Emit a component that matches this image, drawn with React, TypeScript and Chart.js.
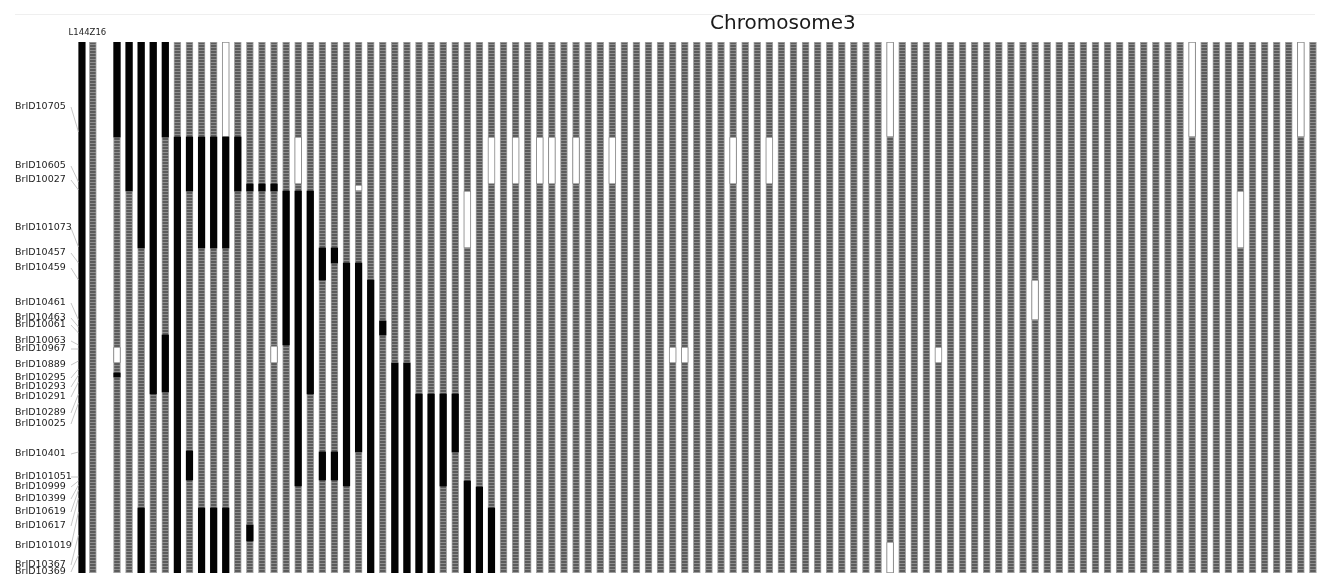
import React, { useEffect, useRef } from 'react';
import { Chart, registerables } from 'chart.js';

Chart.register(...registerables);

const chartTitle = 'Chromosome3';
const parentLabel = 'L144Z16';
const chromosomeLength = 531;
const parentPositions = [-2.9, -2.0]; // L144 (black), Z16 (grey)
const rilCount = 100;

const markerNames = [
  'BrID10705', 'BrID10605', 'BrID10027', 'BrID101073', 'BrID10457', 'BrID10459',
  'BrID10461', 'BrID10463', 'BrID10061', 'BrID10063', 'BrID10967', 'BrID10889',
  'BrID10295', 'BrID10293', 'BrID10291', 'BrID10289', 'BrID10025', 'BrID10401',
  'BrID101051', 'BrID10999', 'BrID10399', 'BrID10619', 'BrID10617', 'BrID101019',
  'BrID10367', 'BrID10369',
];
const labelPositions = [
  65, 124, 138, 186, 211, 226, 261, 276, 283, 299, 307, 323, 336, 345, 355, 371,
  382, 412, 435, 445, 457, 470, 484, 504, 523, 530,
];
const markerPositions = [
  90, 140, 148, 205, 221, 238, 278, 285, 291, 303, 307, 319, 327, 333, 340, 352,
  361, 410, 435, 439, 443, 448, 456, 470, 493, 513,
];

// [column, start, end] — L144 genotype segments
const blackSegments: number[][] = [
  [0, 0, 95], [0, 331, 335],
  [1, 0, 149],
  [2, 0, 206], [2, 466, 531],
  [3, 0, 352],
  [4, 0, 95], [4, 293, 350],
  [5, 95, 531],
  [6, 95, 149], [6, 409, 438],
  [7, 95, 206], [7, 466, 531],
  [8, 95, 206], [8, 466, 531],
  [9, 95, 206], [9, 466, 531],
  [10, 95, 149],
  [11, 142, 149], [11, 483, 499],
  [12, 142, 149],
  [13, 142, 149],
  [14, 149, 303],
  [15, 149, 444],
  [16, 149, 352],
  [17, 206, 238], [17, 410, 438],
  [18, 206, 221], [18, 410, 438],
  [19, 221, 444],
  [20, 221, 410],
  [21, 238, 531],
  [22, 279, 293],
  [23, 321, 531],
  [24, 321, 531],
  [25, 352, 531],
  [26, 352, 531],
  [27, 352, 444],
  [28, 352, 410],
  [29, 439, 531],
  [30, 445, 531],
  [31, 466, 531],
];

// [column, start, end] — missing-data segments
const whiteSegments: number[][] = [
  [0, 305, 321],
  [9, 0, 95],
  [13, 304, 321],
  [15, 95, 142],
  [20, 143, 149],
  [29, 149, 206],
  [31, 95, 142],
  [33, 95, 142],
  [35, 95, 142],
  [36, 95, 142],
  [38, 95, 142],
  [41, 95, 142],
  [46, 305, 321],
  [47, 305, 321],
  [51, 95, 142],
  [54, 95, 142],
  [64, 0, 95], [64, 500, 531],
  [68, 305, 321],
  [76, 238, 278],
  [89, 0, 95],
  [93, 149, 206],
  [98, 0, 95],
];

export default function App() {
  const ref = useRef<HTMLCanvasElement>(null);

  useEffect(() => {
    const canvas = ref.current!;
    const ctx = canvas.getContext('2d')!;

    const pc = document.createElement('canvas');
    pc.width = 4;
    pc.height = 3;
    const pg = pc.getContext('2d')!;
    pg.fillStyle = '#5c5c5c';
    pg.fillRect(0, 0, 4, 3);
    pg.fillStyle = '#8e8e8e';
    pg.fillRect(0, 2, 4, 1);
    const grayPattern = ctx.createPattern(pc, 'repeat')!;

    const grayData = [
      { x: parentPositions[1], y: [0, chromosomeLength] },
      ...Array.from({ length: rilCount }, (_, i) => ({ x: i, y: [0, chromosomeLength] })),
    ];
    const blackData = [
      { x: parentPositions[0], y: [0, chromosomeLength] },
      ...blackSegments.map(([c, s, e]) => ({ x: c, y: [s, e] })),
    ];
    const whiteData = whiteSegments.map(([c, s, e]) => ({ x: c, y: [s, e] }));

    const decorations = {
      id: 'decorations',
      beforeDraw(chart: any) {
        const c = chart.ctx;
        c.save();
        c.strokeStyle = '#efefef';
        c.lineWidth = 1;
        c.beginPath();
        c.moveTo(15, 14.5);
        c.lineTo(1315, 14.5);
        c.stroke();
        c.restore();
      },
      afterDraw(chart: any) {
        const c = chart.ctx;
        const xs = chart.scales.x;
        const ys = chart.scales.y;
        c.save();
        // title
        c.fillStyle = '#1a1a1a';
        c.font = '20px "DejaVu Sans"';
        c.textAlign = 'center';
        c.textBaseline = 'middle';
        c.fillText(chartTitle, chart.width * 0.594, 24);
        // parent label
        c.font = '8.5px "DejaVu Sans"';
        c.fillStyle = '#222';
        const px = (xs.getPixelForValue(parentPositions[0]) + xs.getPixelForValue(parentPositions[1])) / 2;
        c.fillText(parentLabel, px, 33);
        // leader lines
        c.strokeStyle = '#b8b8b8';
        c.lineWidth = 0.8;
        const x1 = xs.getPixelForValue(parentPositions[0]) - 3.5;
        markerNames.forEach((_, i) => {
          c.beginPath();
          c.moveTo(71, ys.getPixelForValue(labelPositions[i]));
          c.lineTo(x1, ys.getPixelForValue(markerPositions[i]));
          c.stroke();
        });
        c.restore();
      },
    };

    const chart = new Chart(ctx, {
      type: 'bar',
      data: {
        datasets: [
          {
            label: 'L144',
            data: blackData as any,
            backgroundColor: '#030303',
            borderWidth: 0,
            barThickness: 6.5,
            grouped: false,
            order: 0,
          },
          {
            label: 'missing',
            data: whiteData as any,
            backgroundColor: '#ffffff',
            borderColor: '#8f8f8f',
            borderWidth: 1,
            borderSkipped: false,
            borderRadius: 1,
            barThickness: 7,
            grouped: false,
            order: 1,
          },
          {
            label: 'Z16',
            data: grayData as any,
            backgroundColor: grayPattern as any,
            borderColor: '#a6a6a6',
            borderWidth: 1,
            borderSkipped: false,
            barThickness: 7,
            grouped: false,
            order: 2,
          },
        ],
      },
      options: {
        responsive: false,
        animation: false,
        events: [],
        layout: { padding: { left: 15, right: 0, top: 42, bottom: 3 } },
        plugins: {
          legend: { display: false },
          title: { display: false },
          tooltip: { enabled: false },
        },
        scales: {
          x: {
            type: 'linear',
            display: false,
            offset: false,
            min: -3.394,
            max: 99.42,
          },
          y: {
            type: 'linear',
            reverse: true,
            min: 0,
            max: chromosomeLength,
            grid: { display: false },
            border: { display: false },
            ticks: {
              autoSkip: false,
              crossAlign: 'far',
              padding: 0,
              color: '#222',
              font: { family: 'DejaVu Sans', size: 9.5 },
              callback: (_v: any, i: number) => markerNames[i],
            },
            afterBuildTicks: (scale: any) => {
              scale.ticks = labelPositions.map((v) => ({ value: v }));
            },
            afterFit: (scale: any) => {
              scale.width = 61;
              scale.paddingTop = 0;
              scale.paddingBottom = 0;
            },
          },
        },
      },
      plugins: [decorations],
    });

    return () => chart.destroy();
  }, []);

  return (
    <div style={{ position: 'fixed', left: 0, top: 0, width: 1318, height: 576, background: '#fff' }}>
      <canvas ref={ref} width={1318} height={576} style={{ display: 'block' }} />
    </div>
  );
}
